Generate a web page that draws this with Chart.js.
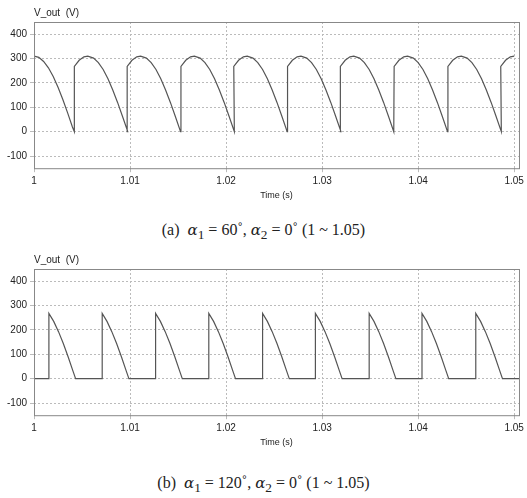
<!DOCTYPE html>
<html lang="en">
<head>
  <meta charset="UTF-8" />
  <title>V_out waveforms</title>
  <script src="https://cdn.jsdelivr.net/npm/chart.js@4.4.0/dist/chart.umd.min.js"></script>
  <style>
    body { margin: 0; background: #fff; width: 527px; height: 498px; position: relative; overflow: hidden; }
    .box { position: absolute; left: 0; width: 527px; }
    .cap { position: absolute; left: 0; width: 527px; text-align: center; font-family: "Liberation Serif", serif; font-size: 16px; color: #222; }
    .cap i { font-family: "DejaVu Serif", serif; font-size: 15px; }
  </style>
</head>
<body>
  <div class="box" style="top:0;height:205px"><canvas id="chartA"></canvas></div>
  <div class="cap" style="top:221px">(a)&nbsp; <i>α</i><sub>1</sub> = 60˚, <i>α</i><sub>2</sub> = 0˚ (1 ~ 1.05)</div>
  <div class="box" style="top:247px;height:205px"><canvas id="chartB"></canvas></div>
  <div class="cap" style="top:474px">(b)&nbsp; <i>α</i><sub>1</sub> = 120˚, <i>α</i><sub>2</sub> = 0˚ (1 ~ 1.05)</div>

  <script>
    // tick labels
    const xTicks = [1, 1.01, 1.02, 1.03, 1.04, 1.05];
    const yTicks = [-100, 0, 100, 200, 300, 400];

    // (a) alpha1 = 60: first falling piece from t = 1, then one pulse per jump time
    const startA = [[1, 310], [1.0005, 305], [1.001, 288], [1.0015, 262], [1.002, 226], [1.0025, 182], [1.003, 132], [1.0035, 77], [1.004, 19], [1.0042, 0]];
    const jumpsA = [1.0042, 1.0097, 1.0153, 1.0208, 1.0264, 1.0319, 1.0375, 1.0431, 1.0486];
    const shapeOffA = [0, 0.5, 1.0, 1.4, 2.0, 2.5, 3.0, 3.5, 4.0, 4.5, 5.0, 5.56];
    const shapeValA = [268, 293, 307, 310, 302, 283, 255, 217, 171, 120, 64, 0];

    // (b) alpha1 = 120: zero, jump, fall to zero
    const jumpsB = [1.00155, 1.0071, 1.01266, 1.0182, 1.0238, 1.0293, 1.0349, 1.0404, 1.046];
    const shapeOffB = [0, 0.5, 1.0, 1.5, 2.0, 2.5, 2.78];
    const shapeValB = [268, 235, 193, 144, 90, 32, 0];

    function buildA() {
      const pts = startA.map(p => ({ x: p[0], y: p[1] }));
      jumpsA.forEach(t0 => {
        shapeOffA.forEach((o, i) => pts.push({ x: t0 + o / 1000, y: shapeValA[i] }));
      });
      return pts.filter(p => p.x <= 1.0505);
    }
    function buildB() {
      const pts = [{ x: 1, y: 0 }];
      jumpsB.forEach(t0 => {
        pts.push({ x: t0, y: 0 });
        shapeOffB.forEach((o, i) => pts.push({ x: t0 + o / 1000, y: shapeValB[i] }));
      });
      pts.push({ x: 1.0505, y: 0 });
      return pts;
    }

    const frame = {
      id: 'frame',
      afterDraw(chart) {
        const { ctx, chartArea: a } = chart;
        ctx.save();
        ctx.strokeStyle = '#888';
        ctx.lineWidth = 1;
        ctx.strokeRect(a.left + 0.5, a.top + 0.5, a.right - a.left, a.bottom - a.top);
        ctx.fillStyle = '#222';
        ctx.font = '10px "Liberation Sans", Arial, sans-serif';
        ctx.textBaseline = 'bottom';
        ctx.fillText('V_out  (V)', a.left, a.top - 4);
        ctx.restore();
      }
    };

    function makeChart(id, data) {
      return new Chart(document.getElementById(id), {
        type: 'line',
        data: { datasets: [{ data: data, borderColor: '#555', borderWidth: 1.2, pointRadius: 0, tension: 0 }] },
        plugins: [frame],
        options: {
          responsive: true,
          maintainAspectRatio: false,
          animation: false,
          layout: { padding: { top: 22, right: 8, left: 4, bottom: 0 } },
          plugins: { legend: { display: false }, tooltip: { enabled: false } },
          scales: {
            x: {
              type: 'linear', min: 1, max: 1.0505,
              afterBuildTicks: s => { s.ticks = xTicks.map(v => ({ value: v })); },
              ticks: { color: '#222', font: { size: 10, family: 'Liberation Sans' }, maxRotation: 0, callback: v => String(v) },
              grid: { color: '#bbb', lineWidth: 1, tickLength: 4 },
              border: { display: false, dash: [2, 2] },
              title: { display: true, text: 'Time (s)', color: '#222', font: { size: 9, family: 'Liberation Sans' }, padding: { top: 0 } }
            },
            y: {
              min: -150, max: 450,
              afterBuildTicks: s => { s.ticks = yTicks.map(v => ({ value: v })); },
              ticks: { color: '#222', font: { size: 10, family: 'Liberation Sans' } },
              grid: { color: '#bbb', lineWidth: 1, tickLength: 4 },
              border: { display: false, dash: [2, 2] }
            }
          }
        }
      });
    }

    makeChart('chartA', buildA());
    makeChart('chartB', buildB());
  </script>
</body>
</html>
